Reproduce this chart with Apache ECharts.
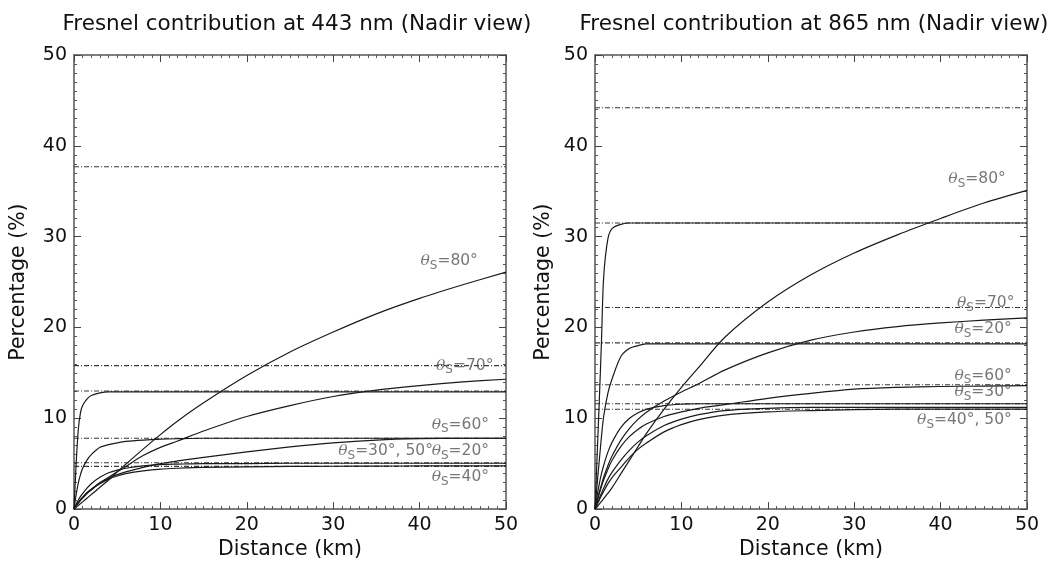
<!DOCTYPE html>
<html><head><meta charset="utf-8">
<script src="https://cdn.jsdelivr.net/npm/echarts@6/dist/echarts.min.js"></script>
<style>html,body{margin:0;padding:0;background:#fff}#c{width:1048px;height:565px}</style>
</head><body><div id="c"></div>
<script>
// ---- data ----
const distance = [0, 0.25, 0.5, 0.75, 1, 1.5, 2, 3, 4, 5, 6, 8, 10, 12, 15, 20, 25, 30, 35, 40, 45, 50];
const xTicks = [0, 10, 20, 30, 40, 50];
const yTicks = [0, 10, 20, 30, 40, 50];

// 443 nm panel curves (percentage)
const b443_80   = [0,0.2,0.4,0.6,0.8,1.2,1.6,2.4,3.2,4.1,4.95,6.6,8.2,9.7,11.7,14.7,17.3,19.5,21.5,23.2,24.7,26.1];
const b443_70   = [0,0.35,0.65,0.95,1.2,1.7,2.1,2.9,3.5,4.1,4.7,5.9,6.8,7.5,8.6,10.2,11.4,12.4,13.1,13.6,14.0,14.3];
const b443_fast = [0,5,8.8,10.6,11.4,12.1,12.5,12.8,12.9,12.9,12.9,12.9,12.9,12.9,12.9,12.9,12.9,12.9,12.9,12.9,12.9,12.9];
const b443_med  = [0,1.6,2.9,3.8,4.5,5.4,6.0,6.8,7.1,7.3,7.45,7.6,7.7,7.75,7.8,7.8,7.8,7.8,7.8,7.8,7.8,7.8];
const b443_slow = [0,0.4,0.75,1.05,1.3,1.8,2.2,2.9,3.4,3.8,4.1,4.6,5.0,5.3,5.7,6.3,6.85,7.3,7.6,7.75,7.8,7.8];
const b443_a    = [0,0.55,1.0,1.4,1.7,2.3,2.8,3.5,4.0,4.3,4.5,4.75,4.9,4.95,5.0,5.0,5.05,5.05,5.05,5.05,5.05,5.05];
const b443_b    = [0,0.4,0.7,1.0,1.3,1.8,2.2,2.8,3.3,3.65,3.9,4.2,4.4,4.5,4.6,4.65,4.7,4.72,4.74,4.75,4.75,4.75];
const asym443   = [37.7, 15.8, 13.0, 7.8, 5.1, 4.7];

// 865 nm panel curves (percentage)
const n865_80    = [0,0.25,0.55,0.85,1.15,1.75,2.4,3.9,5.4,6.9,8.4,11.0,13.4,15.6,18.9,22.8,25.8,28.2,30.2,32.0,33.7,35.1];
const n865_fastA = [0,6,12,18.5,25.5,29.8,30.9,31.35,31.5,31.5,31.5,31.5,31.5,31.5,31.5,31.5,31.5,31.5,31.5,31.5,31.5,31.5];
const n865_fastB = [0,2.8,5.4,8.0,10.2,12.8,14.4,16.8,17.7,18.0,18.2,18.2,18.2,18.2,18.2,18.2,18.2,18.2,18.2,18.2,18.2,18.2];
const n865_70    = [0,1.0,1.9,2.7,3.5,4.8,5.9,7.6,8.9,9.9,10.7,11.9,12.9,13.8,15.3,17.2,18.6,19.5,20.1,20.5,20.8,21.05];
const n865_60    = [0,0.9,1.7,2.5,3.2,4.4,5.4,6.9,8.0,8.8,9.4,10.2,10.7,11.1,11.5,12.2,12.75,13.2,13.4,13.5,13.55,13.6];
const n865_30    = [0,1.5,2.8,3.9,4.8,6.3,7.4,9.0,10.0,10.6,11.0,11.4,11.55,11.6,11.6,11.6,11.6,11.6,11.6,11.6,11.6,11.6];
const n865_low1  = [0,0.5,1.0,1.5,1.95,2.8,3.5,4.6,5.7,6.6,7.3,8.5,9.3,9.85,10.35,10.7,10.85,10.95,11.0,11.0,11.0,11.0];
const n865_low2  = [0,0.6,1.2,1.75,2.3,3.3,4.1,5.4,6.5,7.4,8.1,9.2,9.9,10.4,10.85,11.1,11.2,11.2,11.2,11.2,11.2,11.2];
const asym865    = [44.2, 31.5, 22.2, 18.3, 13.7, 11.6, 11.0];

// curve labels: text and anchor (right edge) in data units
const labels443 = ['80°', '70°', '60°', '30°, 50°', '20°', '40°'];
const labelAt443 = [[46.8, 27.3], [48.6, 15.8], [48.1, 9.3], [41.6, 6.4], [48.1, 6.4], [48.1, 3.5]];
const labels865 = ['80°', '70°', '20°', '60°', '30°', '40°, 50°'];
const labelAt865 = [[47.6, 36.3], [48.6, 22.7], [48.3, 19.8], [48.3, 14.7], [48.3, 12.9], [48.3, 9.8]];

const titles = ['Fresnel contribution at 443 nm (Nadir view)', 'Fresnel contribution at 865 nm (Nadir view)'];

// ---- build ----
const FONT = 'DejaVu Sans';
const frame = {lineStyle: {color: '#555', width: 1.5}};
function xAx(grid, pos, labels) {
  return {
    type: 'value', gridIndex: grid, position: pos, min: 0, max: 50, interval: 10,
    axisLine: Object.assign({show: true, onZero: false}, frame),
    axisTick: {show: true, inside: true, length: 7, lineStyle: {color: '#444'}},
    minorTick: {show: true, splitNumber: 10, length: 3, lineStyle: {color: '#555'}},
    splitLine: {show: false},
    axisLabel: {show: labels, fontFamily: FONT, fontSize: 19, color: '#111', margin: 6},
    name: labels ? 'Distance (km)' : '', nameLocation: 'middle', nameGap: 29,
    nameTextStyle: {fontFamily: FONT, fontSize: 20.5, color: '#111'}
  };
}
function yAx(grid, pos, labels, gap) {
  return {
    type: 'value', gridIndex: grid, position: pos, min: 0, max: 50, interval: 10,
    axisLine: Object.assign({show: true, onZero: false}, frame),
    axisTick: {show: true, inside: true, length: 7, lineStyle: {color: '#444'}},
    minorTick: {show: true, splitNumber: 10, length: 3, lineStyle: {color: '#555'}},
    splitLine: {show: false},
    axisLabel: {show: labels, fontFamily: FONT, fontSize: 19, color: '#111', margin: 7},
    name: labels ? 'Percentage (%)' : '', nameLocation: 'middle', nameGap: gap, nameRotate: 90,
    nameTextStyle: {fontFamily: FONT, fontSize: 20.5, color: '#111'}
  };
}
function curve(arr, xi) {
  return {
    type: 'line', xAxisIndex: xi, yAxisIndex: xi, data: distance.map((d, i) => [d, arr[i]]),
    showSymbol: false, smooth: 0.3, silent: true, z: 3,
    lineStyle: {color: '#1a1a1a', width: 1.2}
  };
}
function asym(v, xi) {
  return {
    type: 'line', xAxisIndex: xi, yAxisIndex: xi, data: [[0, v], [50, v]],
    showSymbol: false, silent: true, z: 2,
    lineStyle: {color: '#3a3a3a', width: 1.1, type: [5, 2, 1, 2]}
  };
}
const rich = {
  th: {fontFamily: 'DejaVu Serif', fontStyle: 'italic', fontSize: 15.5, color: '#555'},
  sub: {fontFamily: FONT, fontSize: 12, color: '#555', padding: [9, 0, 0, 0]},
  eq: {fontFamily: FONT, fontSize: 15.5, color: '#555'}
};
function labelSeries(texts, at, xi) {
  return {
    type: 'scatter', xAxisIndex: xi, yAxisIndex: xi, symbolSize: 1, silent: true, z: 5,
    itemStyle: {color: 'rgba(0,0,0,0)'},
    data: texts.map((t, i) => ({value: at[i], name: t})),
    label: {show: true, position: 'left', distance: 0,
      formatter: p => '{th|θ}{sub|S}{eq|=' + p.name + '}', rich: rich}
  };
}

const series = [];
[b443_80, b443_70, b443_fast, b443_med, b443_slow, b443_a, b443_b].forEach(a => series.push(curve(a, 0)));
asym443.forEach(v => series.push(asym(v, 0)));
series.push(labelSeries(labels443, labelAt443, 0));
[n865_80, n865_fastA, n865_fastB, n865_70, n865_60, n865_30, n865_low1, n865_low2].forEach(a => series.push(curve(a, 2)));
asym865.forEach(v => series.push(asym(v, 2)));
series.push(labelSeries(labels865, labelAt865, 2));

const titleStyle = {fontFamily: FONT, fontSize: 21.5, fontWeight: 'normal', color: '#111'};
const chart = echarts.init(document.getElementById('c'), null, {renderer: 'canvas'});
chart.setOption({
  animation: false,
  backgroundColor: '#fff',
  title: [
    {text: titles[0], left: 292, top: 8, textAlign: 'center', textStyle: titleStyle},
    {text: titles[1], left: 809, top: 8, textAlign: 'center', textStyle: titleStyle}
  ],
  grid: [
    {left: 74, right: 542, top: 55, bottom: 55},
    {left: 595, right: 21, top: 55, bottom: 55}
  ],
  xAxis: [xAx(0, 'bottom', true), xAx(0, 'top', false), xAx(1, 'bottom', true), xAx(1, 'top', false)],
  yAxis: [yAx(0, 'left', true, 45), yAx(0, 'right', false, 0), yAx(1, 'left', true, 41), yAx(1, 'right', false, 0)],
  series: series
});
</script></body></html>
